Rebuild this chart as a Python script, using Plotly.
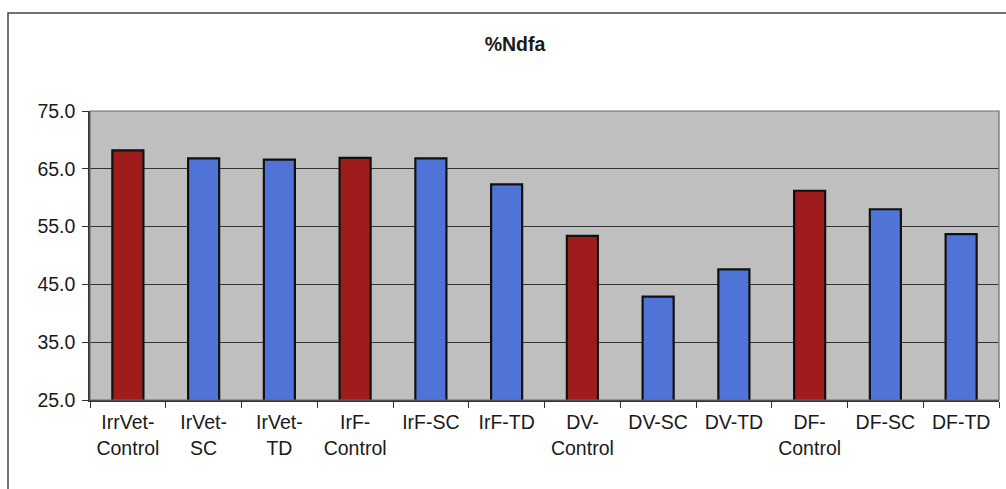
import plotly.graph_objects as go

# %Ndfa by treatment
categories = [
    "IrrVet-<br>Control", "IrVet-<br>SC", "IrVet-<br>TD", "IrF-<br>Control",
    "IrF-SC", "IrF-TD", "DV-<br>Control", "DV-SC", "DV-TD",
    "DF-<br>Control", "DF-SC", "DF-TD",
]
ndfa = [68.2, 66.8, 66.6, 66.9, 66.8, 62.3, 53.4, 42.9, 47.6, 61.2, 58.0, 53.7]
is_control = [True, False, False, True, False, False, True, False, False, True, False, False]

y_ticks = [25, 35, 45, 55, 65, 75]
y_tick_text = ["25.0", "35.0", "45.0", "55.0", "65.0", "75.0"]

RED = "#9E1C1C"
BLUE = "#5073D8"
bar_colors = [RED if c else BLUE for c in is_control]

W, H = 1006, 489
ML, MR, MT, MB = 90, 7, 111, 89
PW, PH = W - ML - MR, H - MT - MB


def px_x(px):
    return (px - ML) / PW


def px_y(py):
    return (H - MB - py) / PH


fig = go.Figure(
    go.Bar(
        x=categories,
        y=ndfa,
        base=0,
        marker=dict(color=bar_colors, line=dict(color="#111111", width=2.2)),
        width=0.41,
    )
)

fig.update_layout(
    width=W,
    height=H,
    margin=dict(l=ML, r=MR, t=MT, b=MB),
    paper_bgcolor="white",
    plot_bgcolor="#BFBFBF",
    showlegend=False,
    font=dict(family="Liberation Sans, Arial, sans-serif", size=19.5, color="#1a1a1a"),
    title=dict(
        text="<b>%Ndfa</b>",
        x=515 / W,
        xanchor="center",
        y=1 - 44 / H,
        yanchor="middle",
        font=dict(size=19.5, color="#1a1a1a"),
    ),
)

fig.update_xaxes(
    type="category",
    tickson="boundaries",
    ticks="outside",
    ticklen=6,
    tickcolor="#333333",
    showline=True,
    linecolor="#333333",
    linewidth=1.5,
    showgrid=False,
    tickfont=dict(size=19.5),
    tickangle=0,
    ticklabelstandoff=4,
)

fig.update_yaxes(
    range=[25, 75],
    tickvals=y_ticks,
    ticktext=y_tick_text,
    ticks="outside",
    ticklen=6,
    tickcolor="#333333",
    showline=True,
    linecolor="#333333",
    linewidth=1.5,
    showgrid=True,
    gridcolor="#333333",
    gridwidth=1,
    zeroline=False,
    tickfont=dict(size=19.5),
    ticklabelstandoff=3,
)

# plot-area border (top and right)
fig.add_shape(
    type="rect", xref="paper", yref="paper",
    x0=0, x1=1, y0=0, y1=1,
    line=dict(color="#6a6a6a", width=1.2), layer="above",
)

# outer chart frame
fig.add_shape(
    type="rect", xref="paper", yref="paper",
    x0=px_x(8), x1=px_x(1030), y0=px_y(496), y1=px_y(13),
    line=dict(color="#444444", width=1.5), layer="above",
)

fig.write_html("out.html")
